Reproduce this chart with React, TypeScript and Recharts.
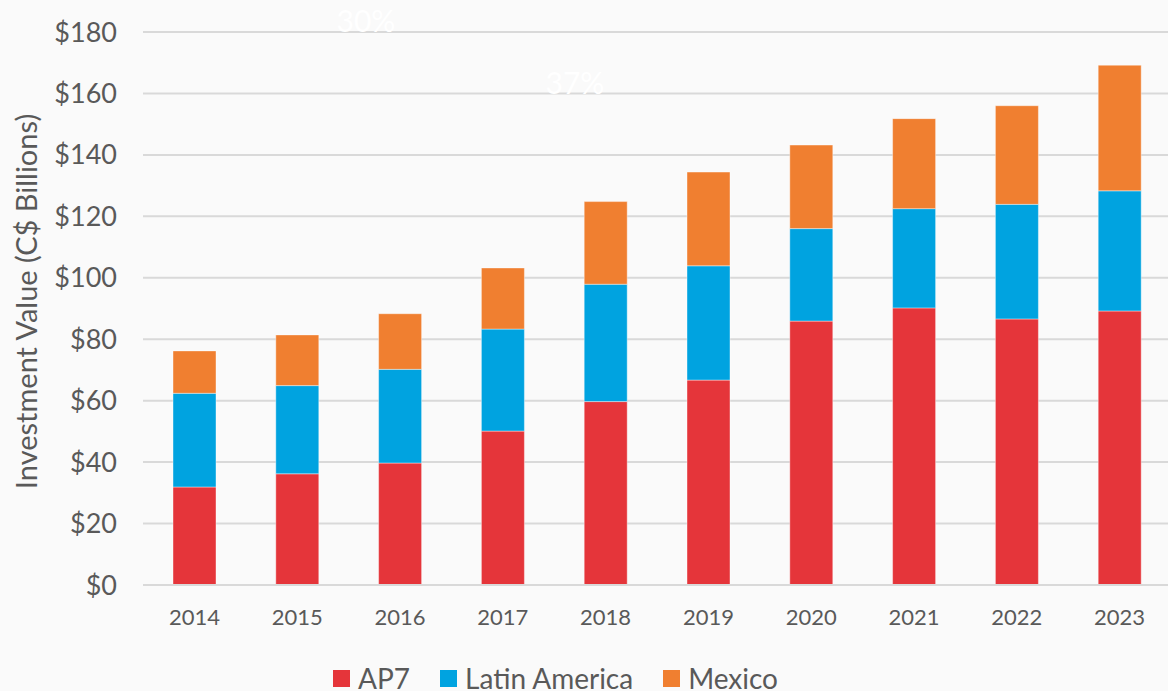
import React from 'react';
import { BarChart, Bar, XAxis, YAxis, CartesianGrid, Legend } from 'recharts';

const years = ['2014', '2015', '2016', '2017', '2018', '2019', '2020', '2021', '2022', '2023'];
const ap7 = [31.9, 36.2, 39.7, 50.1, 59.7, 66.7, 85.9, 90.2, 86.6, 89.2];
const latinAmerica = [30.5, 28.7, 30.5, 33.2, 38.2, 37.2, 30.1, 32.3, 37.3, 39.1];
const mexico = [13.8, 16.5, 18.1, 19.9, 26.9, 30.5, 27.2, 29.3, 32.1, 40.9];
const yTicks = [0, 20, 40, 60, 80, 100, 120, 140, 160, 180];

const data = years.map((y, i) => ({ year: y, AP7: ap7[i], 'Latin America': latinAmerica[i], Mexico: mexico[i] }));

const FONT = 'Lato, "Open Sans", sans-serif';
const TEXT = '#595959';
const GRID = '#d9d9d9';

const series = [
    { key: 'AP7', color: '#e5353a' },
    { key: 'Latin America', color: '#00a3e0' },
    { key: 'Mexico', color: '#f07f30' },
];

const LegendContent = () => (
    <div style={{ display: 'flex', alignItems: 'center', paddingLeft: 333, paddingTop: 23, fontFamily: FONT, fontSize: 28, color: TEXT, lineHeight: '28px' }}>
        {series.map((s) => (
            <div key={s.key} style={{ display: 'flex', alignItems: 'center', marginRight: 30 }}>
                <span style={{ width: 17, height: 17, background: s.color, marginRight: 8, display: 'inline-block' }} />
                <span>{s.key}</span>
            </div>
        ))}
    </div>
);

export default function App() {
    return (
        <div style={{ position: 'absolute', left: 0, top: 0, width: 1168, height: 691, background: '#fafafa', overflow: 'hidden' }}>
            <BarChart width={1180} height={691} data={data} margin={{ top: 32, right: 9, left: 0, bottom: 0 }}>
                <CartesianGrid vertical={false} stroke={GRID} strokeWidth={2} />
                <XAxis
                    dataKey="year"
                    height={56}
                    tickLine={false}
                    tickSize={0}
                    tickMargin={24}
                    axisLine={{ stroke: GRID, strokeWidth: 2 }}
                    tick={{ fill: TEXT, fontSize: 22, fontFamily: FONT }}
                />
                <YAxis
                    width={143}
                    domain={[0, 180]}
                    ticks={yTicks}
                    axisLine={false}
                    tickLine={false}
                    tickSize={0}
                    tickMargin={26}
                    tickFormatter={(v) => `$${v}`}
                    tick={{ fill: TEXT, fontSize: 27, fontFamily: FONT }}
                    label={({ viewBox }: any) => (
                        <text
                            x={25}
                            y={viewBox.y + viewBox.height / 2 - 7}
                            transform={`rotate(-90, 25, ${viewBox.y + viewBox.height / 2 - 7})`}
                            textAnchor="middle"
                            dominantBaseline="central"
                            fill={TEXT}
                            fontSize={29}
                            fontFamily={FONT}
                        >
                            Investment Value (C$ Billions)
                        </text>
                    )}
                />
                <Legend verticalAlign="bottom" height={50} content={<LegendContent />} wrapperStyle={{ left: 0, bottom: 0, width: 1168 }} />
                {series.map((s) => (
                    <Bar
                        key={s.key}
                        dataKey={s.key}
                        stackId="a"
                        fill={s.color}
                        barSize={43}
                        stroke="#ffffff"
                        strokeOpacity={0.4}
                        strokeWidth={1}
                        isAnimationActive={false}
                    />
                ))}
            </BarChart>
            <svg width={1168} height={691} style={{ position: 'absolute', left: 0, top: 0, pointerEvents: 'none' }}>
                <text x={366} y={32} textAnchor="middle" fill="#ffffff" fontSize={30} fontFamily={FONT}>30%</text>
                <text x={575} y={94} textAnchor="middle" fill="#ffffff" fontSize={30} fontFamily={FONT}>37%</text>
            </svg>
        </div>
    );
}
